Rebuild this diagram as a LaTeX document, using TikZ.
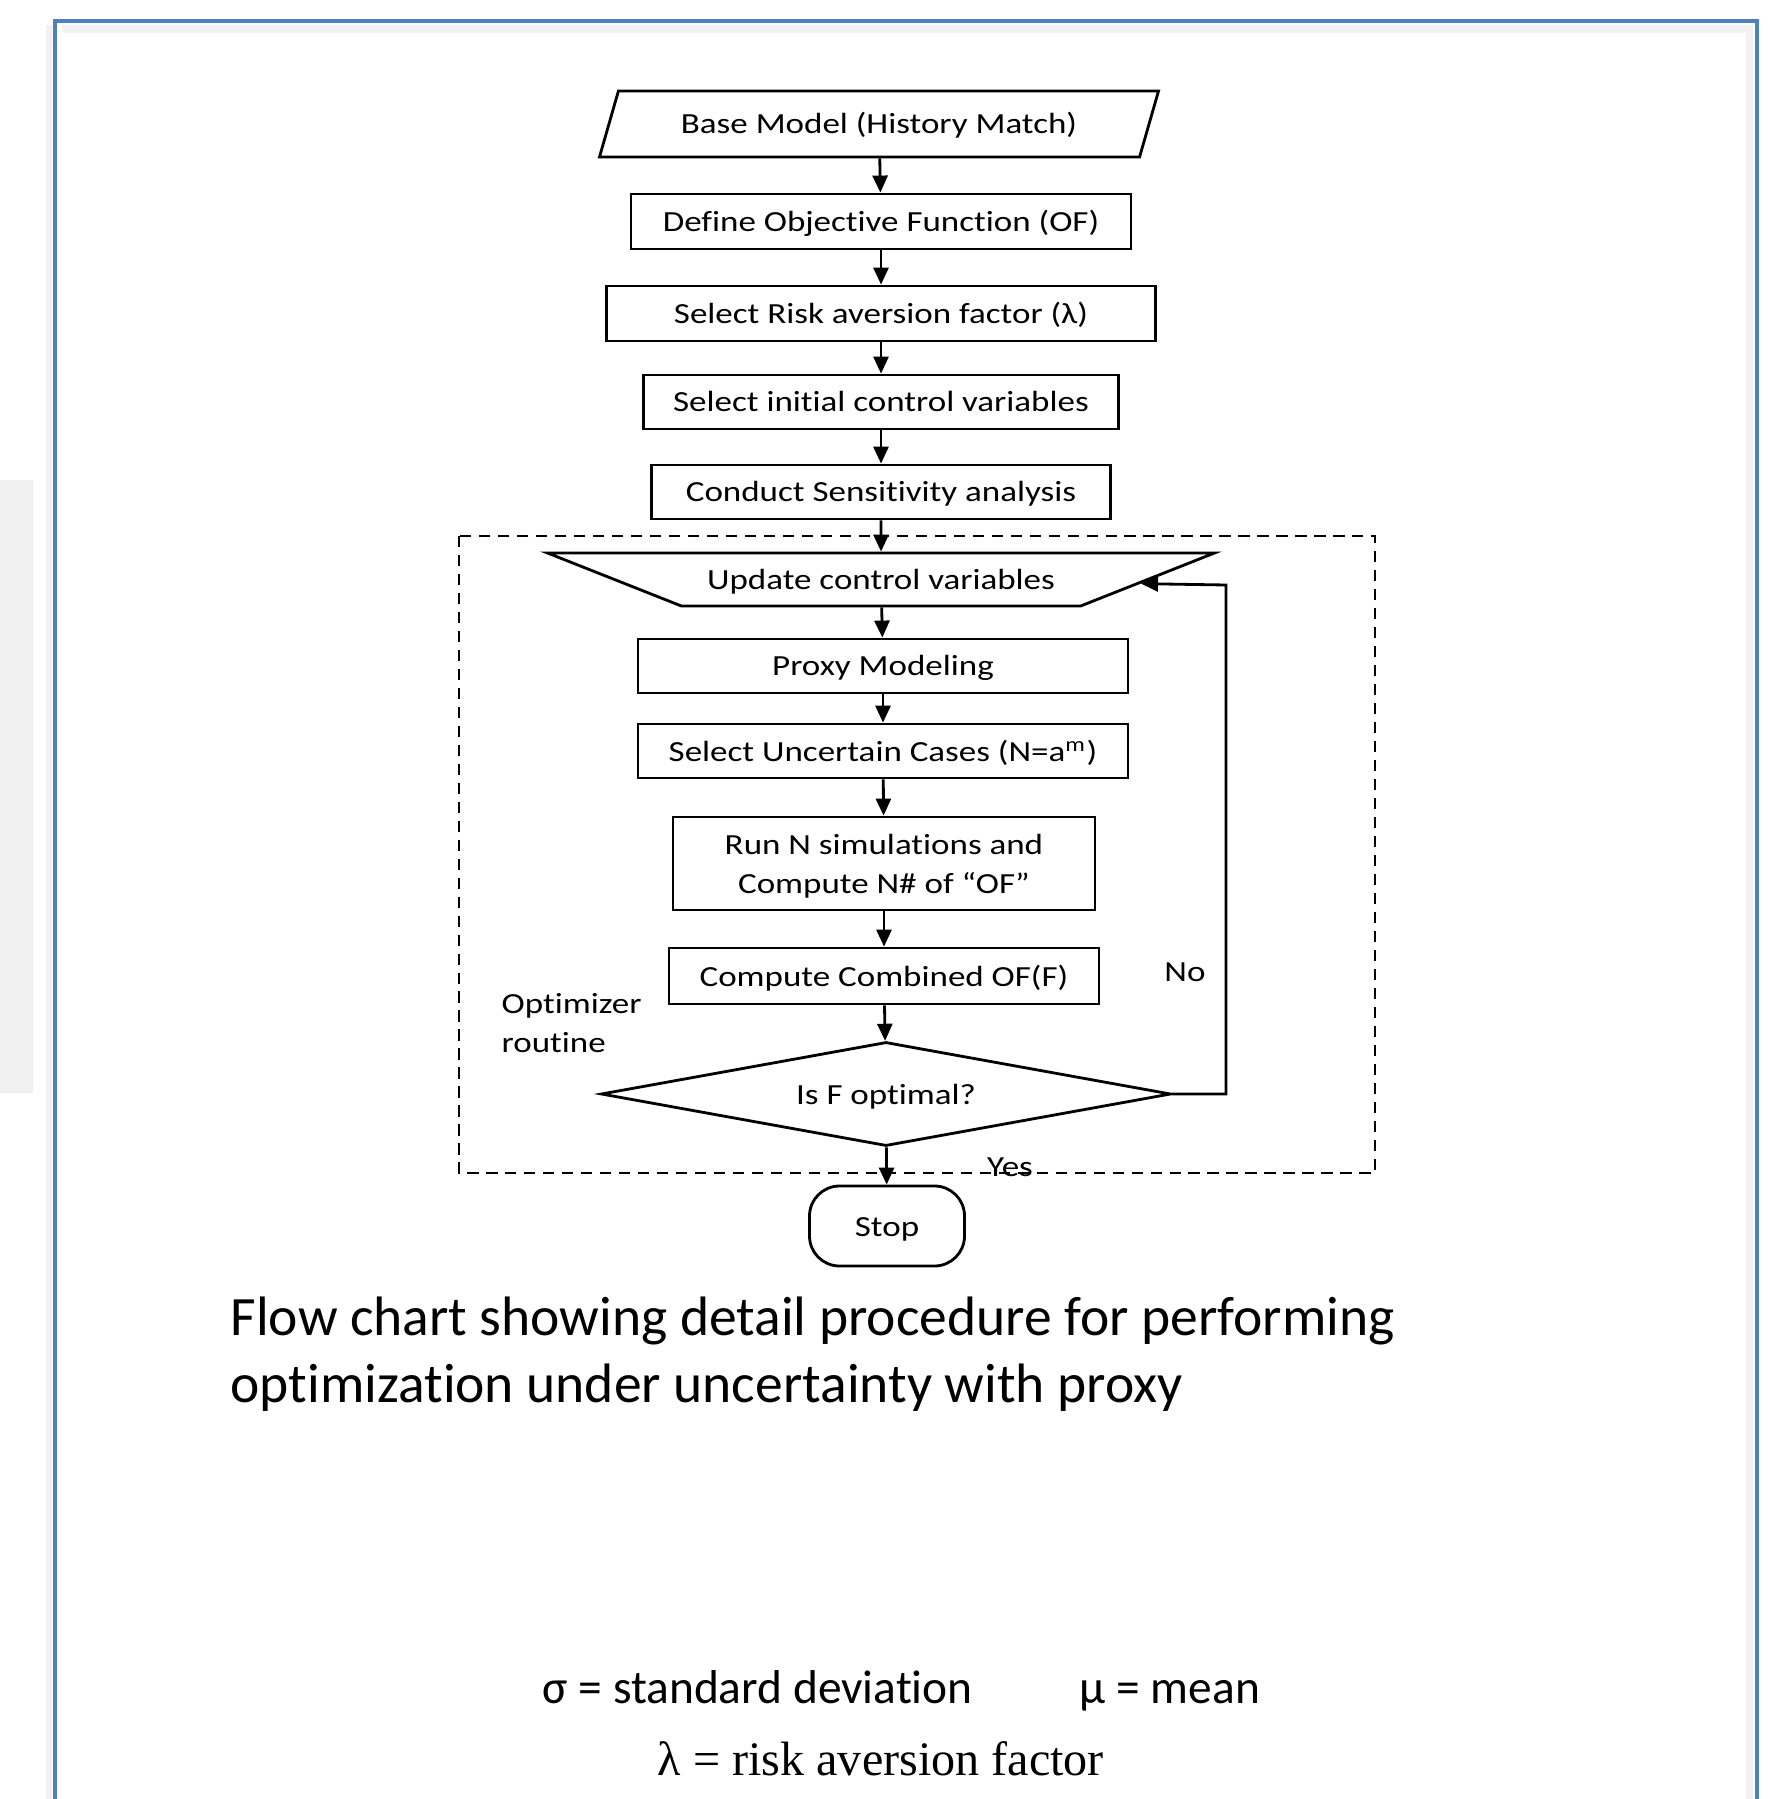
\documentclass[tikz,border=0pt]{standalone}
\usepackage{fontspec}
\setmainfont{Carlito}[Ligatures=NoCommon]
\newfontfamily\chartfont{Carlito}[FakeStretch=1.2,Ligatures=NoCommon]
\newfontfamily\timesfont{Liberation Serif}
\usetikzlibrary{shapes.geometric,arrows.meta}
\definecolor{framecol}{RGB}{79,129,189}
\definecolor{sidegray}{RGB}{240,240,240}
\newcommand{\chartsize}{\chartfont\fontsize{8.3}{11.1}\selectfont}
\tikzset{
  box/.style={draw, line width=0.8pt, inner sep=0pt, font=\chartsize},
  oneline/.style={box, text height=0.25cm, text depth=0.05cm},
  flow/.style={line width=0.8pt, -{Triangle[length=1.7mm,width=1.5mm]}},
  note/.style={inner sep=0pt, font=\chartsize}
}

\begin{document}
\begin{tikzpicture}
      \useasboundingbox (0,0) rectangle (17.70,-17.99);
      % page frame
      \fill[sidegray] (0,-4.80) rectangle (0.33,-10.93);
      \draw[black!5, line width=2pt] (0.62,-0.29) -- (17.49,-0.29) -- (17.49,-18.1);
      \draw[black!5, line width=1.5pt] (0.49,-0.25) -- (0.49,-18.1);
      \draw[framecol, line width=0.9pt] (0.55,-18.1) -- (0.55,-0.21) -- (17.57,-0.21) -- (17.57,-18.1);

      % steps
      \node[oneline, trapezium, trapezium left angle=74, trapezium right angle=106, trapezium stretches body, inner ysep=0.18cm, minimum width=5.59cm] (base) at (8.79,-1.24) {Base Model (History Match)};
      \node[oneline, minimum width=5.00cm, minimum height=0.55cm] (objfn) at (8.81,-2.215) {Define Objective Function (OF)};
      \node[oneline, minimum width=5.49cm, minimum height=0.55cm] (risk) at (8.81,-3.135) {Select Risk aversion factor (λ)};
      \node[oneline, minimum width=4.75cm, minimum height=0.54cm] (initvar) at (8.81,-4.02) {Select initial control variables};
      \node[oneline, minimum width=4.59cm, minimum height=0.54cm] (sens) at (8.81,-4.92) {Conduct Sensitivity analysis};
      \draw[dashed, line width=0.8pt, dash pattern=on 3.2pt off 2.2pt] (4.59,-5.36) rectangle (13.75,-11.73);
      \node[oneline, trapezium, trapezium left angle=21.6, trapezium right angle=21.6, shape border rotate=180, trapezium stretches body, inner ysep=0.115cm, minimum width=6.67cm] (update) at (8.81,-5.795) {Update control variables};
      \node[oneline, minimum width=4.90cm, minimum height=0.54cm] (proxy) at (8.83,-6.66) {Proxy Modeling};
      \node[oneline, minimum width=4.90cm, minimum height=0.54cm] (cases) at (8.83,-7.51) {Select Uncertain Cases (N=a\textsuperscript{m})};
      \node[box, align=center, minimum width=4.22cm, minimum height=0.93cm] (runsim) at (8.84,-8.635) {\rule{0pt}{0.9em}Run N simulations and\\Compute N\# of “OF”};
      \node[oneline, minimum width=4.30cm, minimum height=0.56cm] (combof) at (8.84,-9.76) {Compute Combined OF(F)};
      \node[oneline, diamond, aspect=5.5, minimum width=5.70cm, minimum height=1.04cm] (optimal) at (8.86,-10.94) {Is F optimal?};
      \node[oneline, rounded corners=0.3cm, minimum width=1.55cm, minimum height=0.80cm] (stop) at (8.87,-12.26) {Stop};

      % arrows
      \draw[flow] (base) -- (objfn);
      \draw[flow] (objfn) -- (risk);
      \draw[flow] (risk) -- (initvar);
      \draw[flow] (initvar) -- (sens);
      \draw[flow] (sens) -- (update);
      \draw[flow] (update) -- (proxy);
      \draw[flow] (proxy) -- (cases);
      \draw[flow] (cases) -- (runsim);
      \draw[flow] (runsim) -- (combof);
      \draw[flow] (combof) -- (optimal);
      \draw[flow] (optimal) -- (stop);
      \coordinate (back) at (12.26,-5.85);
      \draw[flow] (optimal.east) -| (back) -- (update);

      % labels
      \node[note, align=left, anchor=west] (optlabel) at (5.01,-10.23) {Optimizer\\routine};
      \node[note] (nolabel) at (11.85,-9.72) {No};
      \node[note] (yeslabel) at (10.10,-11.67) {Yes};

      % caption and legend
      \node[anchor=base west, align=left, inner sep=0pt, font=\fontsize{15.8}{19}\selectfont] (caption) at (2.30,-14.02) {Flow chart showing detail procedure for performing\\optimization under uncertainty with proxy};
      \node[anchor=base west, inner sep=0pt, font=\fontsize{13.5}{16}\selectfont] (sigmaleg) at (5.42,-17.03) {σ = standard deviation};
      \node[anchor=base west, inner sep=0pt, font=\fontsize{13.5}{16}\selectfont] (muleg) at (10.79,-17.03) {μ = mean};
      \node[anchor=base west, inner sep=0pt, font=\timesfont\fontsize{13.7}{16}\selectfont] (lambdaleg) at (6.57,-17.75) {λ = risk aversion factor};
\end{tikzpicture}
\end{document}
